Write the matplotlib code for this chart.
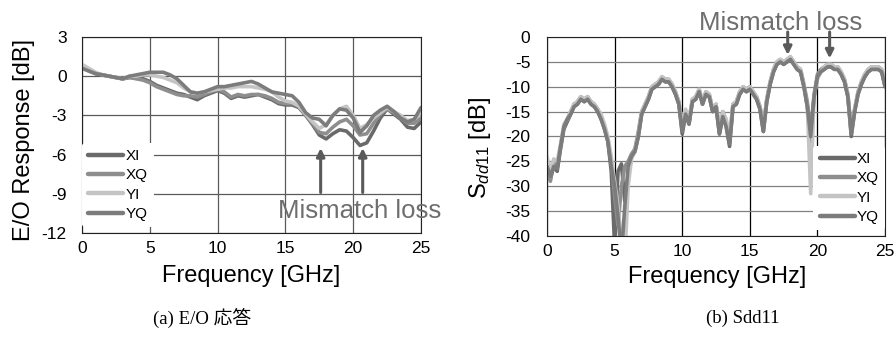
import matplotlib
matplotlib.use("Agg")
import matplotlib.pyplot as plt

plt.rcParams['font.family'] = ['Liberation Sans', 'DejaVu Sans']
plt.rcParams['mathtext.fontset'] = 'custom'
plt.rcParams['mathtext.rm'] = 'Liberation Sans'
plt.rcParams['mathtext.it'] = 'Liberation Sans:italic'
plt.rcParams['axes.unicode_minus'] = False

series_names = ['XI', 'XQ', 'YI', 'YQ']
series_colors = ['#6a6a6a', '#8e8e8e', '#c4c4c4', '#7c7c7c']

# ---------------- (a) E/O response ----------------
eo_freq = [0, 0.5, 1, 1.5, 2, 2.5, 3, 3.5, 4, 4.5, 5, 5.5, 6, 6.5, 7, 7.5, 8, 8.5, 9, 9.5,
           10, 10.5, 11, 11.5, 12, 12.5, 13, 13.5, 14, 14.5, 15, 15.5, 16, 16.5, 17, 17.5,
           18, 18.5, 19, 19.5, 20, 20.5, 21, 21.5, 22, 22.5, 23, 23.5, 24, 24.5, 25]
eo_XI = [0.8, 0.5, 0.2, 0.1, 0.0, -0.1, -0.2, -0.1, -0.1, -0.2, -0.4, -0.7, -0.9, -1.1, -1.3, -1.4,
         -1.6, -1.8, -1.5, -1.3, -1.1, -1.3, -1.7, -1.5, -1.6, -1.5, -1.4, -1.6, -1.8, -2.1, -2.2, -2.2,
         -2.4, -3.0, -3.7, -4.5, -4.8, -4.4, -4.1, -4.2, -4.7, -5.3, -5.1, -4.2, -3.2, -2.5, -2.9, -3.3,
         -3.9, -4.0, -3.5]
eo_XQ = [0.7, 0.4, 0.2, 0.1, 0.0, -0.1, -0.2, -0.1, -0.2, -0.3, -0.5, -0.8, -1.0, -1.2, -1.4, -1.5,
         -1.5, -1.6, -1.4, -1.2, -1.0, -1.2, -1.6, -1.4, -1.5, -1.4, -1.4, -1.5, -1.7, -2.0, -2.1, -2.1,
         -2.3, -3.0, -3.6, -4.3, -4.4, -3.9, -3.5, -3.3, -3.8, -4.5, -4.4, -3.6, -2.9, -2.5, -2.8, -3.2,
         -3.6, -3.6, -3.2]
eo_YI = [0.9, 0.6, 0.3, 0.1, 0.0, -0.1, -0.2, 0.0, 0.0, 0.1, 0.1, 0.0, -0.1, -0.3, -0.5, -0.9,
         -1.2, -1.3, -1.2, -1.1, -1.0, -0.9, -0.9, -0.8, -0.8, -0.8, -0.9, -1.0, -1.2, -1.6, -1.9, -2.0,
         -2.3, -2.9, -3.5, -4.0, -3.7, -3.0, -2.5, -2.3, -3.0, -4.0, -3.7, -3.2, -2.8, -2.4, -2.7, -3.0,
         -3.4, -3.3, -2.8]
eo_YQ = [0.6, 0.4, 0.2, 0.1, 0.0, -0.1, -0.2, 0.0, 0.1, 0.2, 0.3, 0.3, 0.3, 0.1, -0.2, -0.7,
         -1.2, -1.3, -1.2, -1.0, -0.8, -0.8, -0.7, -0.6, -0.5, -0.4, -0.6, -0.9, -1.2, -1.3, -1.4, -1.5,
         -2.0, -2.8, -3.2, -3.3, -3.8, -3.0, -2.5, -2.6, -3.2, -4.3, -3.8, -3.0, -2.6, -2.3, -2.7, -3.2,
         -3.5, -3.3, -2.4]
eo_yticks = [3, 0, -3, -6, -9, -12]
x_ticks = [0, 5, 10, 15, 20, 25]

# ---------------- (b) Sdd11 ----------------
s_freq = [0, 0.25, 0.5, 0.75, 1.0, 1.25, 1.5, 1.75, 2.0, 2.25, 2.5, 2.75, 3.0, 3.25, 3.5, 3.75,
          4.0, 4.25, 4.5, 4.75, 5.0, 5.25, 5.5, 5.75, 6.0, 6.25, 6.5, 6.75, 7.0, 7.25, 7.5, 7.75,
          8.0, 8.25, 8.5, 8.75, 9.0, 9.25, 9.5, 9.75, 10.0, 10.25, 10.5, 10.75, 11.0, 11.25, 11.5, 11.75,
          12.0, 12.25, 12.5, 12.75, 13.0, 13.25, 13.5, 13.75, 14.0, 14.25, 14.5, 14.75, 15.0, 15.25, 15.5, 15.75,
          16.0, 16.25, 16.5, 16.75, 17.0, 17.25, 17.5, 17.75, 18.0, 18.25, 18.5, 18.75, 19.0, 19.25, 19.5, 19.75,
          20.0, 20.25, 20.5, 20.75, 21.0, 21.25, 21.5, 21.75, 22.0, 22.25, 22.5, 22.75, 23.0, 23.25, 23.5, 23.75,
          24.0, 24.25, 24.5, 24.75, 25.0]
s_XI = [-25, -28.5, -26, -27, -22.5, -18.5, -17, -15.5, -14, -13.5, -12.5, -13, -12.5, -13.5, -14, -15,
        -16.5, -18.5, -21, -27, -42, -27, -25.5, -33, -28, -24, -23, -20, -15.5, -14, -12.5, -10.5,
        -10, -9.5, -8.5, -9, -9, -10, -11.5, -13.5, -19.5, -15.5, -17.5, -13, -12.5, -11, -13.5, -11.5,
        -12, -15, -14, -19.5, -16, -18, -22, -14, -13.5, -11.5, -10.5, -11, -10.5, -11.5, -12.5, -14.5,
        -19, -13, -9.5, -7, -5.5, -5, -5.5, -5, -4.5, -5.5, -6.5, -7, -10, -14, -21, -12,
        -8, -7, -6.5, -6, -6, -6.5, -6.5, -7.5, -9, -12, -20, -15, -11.5, -9.5, -8, -7,
        -6.5, -6.5, -6.5, -7, -10]
s_XQ = [-27, -29, -25, -26, -22, -18, -16.5, -15, -13.5, -13, -12, -12.5, -12, -13, -13.5, -14.5,
        -16, -18, -20.5, -25, -32, -38, -30, -26, -25, -23.5, -22.5, -19, -15, -13.5, -12, -10,
        -9.5, -9, -8, -8.5, -8.5, -9.5, -11, -13, -18, -15, -17, -12.5, -12, -10.5, -13, -11,
        -11.5, -14.5, -13.5, -18.5, -15, -17, -20.5, -13.5, -13, -11, -10, -10.5, -10, -11, -12, -14,
        -18, -12.5, -9, -6.5, -5, -4.5, -5, -4.5, -4, -5, -6, -6.5, -9.5, -13, -19, -11.5,
        -7.5, -6.5, -6, -5.5, -5.5, -6, -6, -7, -8.5, -11.5, -19, -14.5, -11, -9, -7.5, -6.5,
        -6, -6, -6, -6.5, -9.5]
s_YI = [-24, -27, -24.5, -25, -21.5, -17.5, -16.5, -15, -13.5, -13, -12, -12.5, -12, -13, -13.5, -14.5,
        -15.5, -17.5, -20, -24, -29, -34, -41, -45, -30, -24.5, -23, -19.5, -15, -13.5, -12, -10,
        -9.5, -9, -8, -8.5, -8.5, -9.5, -11, -13, -17.5, -14.5, -16.5, -12.5, -12, -10.5, -13, -11,
        -11.5, -14.5, -13.5, -18, -15, -16.5, -20, -13.5, -13, -11, -10, -10.5, -10, -11, -12, -14,
        -18, -12.5, -9, -6.5, -5, -4.5, -5, -4.5, -4, -5, -6, -6.5, -9.5, -14, -31.5, -12,
        -8.5, -7, -6, -5.5, -5.5, -6, -6, -7, -8.5, -11.5, -19, -14.5, -11, -9, -7.5, -6.5,
        -6, -6, -6, -6.5, -9.5]
s_YQ = [-26, -28, -26, -26.5, -22, -18, -16.5, -15.5, -14, -13.5, -12.5, -13, -12.5, -13.5, -14, -15,
        -16.5, -18.5, -21, -26, -30, -36, -44, -34, -26, -24, -23, -20, -15.5, -14, -12.5, -10.5,
        -10, -9.5, -8.5, -9, -9, -10, -11.5, -13.5, -19, -15.5, -17.5, -13, -12.5, -11, -13.5, -11.5,
        -12, -15, -14, -19.5, -16, -18, -21.5, -14, -13.5, -11.5, -10.5, -11, -10.5, -11.5, -12.5, -14.5,
        -19, -13, -9.5, -7, -5.5, -5, -5.5, -5, -4.5, -5.5, -6.5, -7, -10, -14, -20, -12,
        -8, -7, -6.5, -6, -6, -6.5, -6.5, -7.5, -9, -12, -19.5, -15, -11.5, -9.5, -8, -7,
        -6.5, -6.5, -6.5, -7, -10]
s_yticks = [0, -5, -10, -15, -20, -25, -30, -35, -40]

caption_a = '(a) E/O 応答'
caption_b = '(b) Sdd11'
annot_text = 'Mismatch loss'
eo_arrow_x = [17.6, 20.7]
s_arrow_x = [17.8, 20.9]

fig = plt.figure(figsize=(8.95, 3.4), dpi=100)
axL = fig.add_axes([0.0916, 0.3147, 0.3788, 0.5765])
axR = fig.add_axes([0.6112, 0.3059, 0.3777, 0.5853])

# Left chart
for name, col, ys in zip(series_names, series_colors, [eo_XI, eo_XQ, eo_YI, eo_YQ]):
    axL.plot(eo_freq, ys, color=col, lw=2.6, label=name, solid_capstyle='round')
axL.set_xlim(0, 25)
axL.set_ylim(-12, 3)
axL.set_xticks(x_ticks)
axL.set_yticks(eo_yticks)
axL.grid(True, color='#5a5a5a', lw=0.9)
axL.set_axisbelow(True)
axL.tick_params(axis='x', length=0, labelsize=12.5, pad=6)
axL.tick_params(axis='y', length=0, labelsize=12.5, pad=11)
axL.set_xlabel('Frequency [GHz]', fontsize=17)
axL.set_ylabel('E/O Response [dB]', fontsize=17)
axL.xaxis.set_label_coords(0.5, -0.165)
axL.yaxis.set_label_coords(-0.139, 0.474)
legL = axL.legend(loc='lower left', bbox_to_anchor=(0.0, 0.03), frameon=True, fontsize=11,
                  handlelength=2.3, handletextpad=0.15, labelspacing=0.35, borderpad=0.4,
                  borderaxespad=0.0)
legL.get_frame().set_edgecolor('none')
legL.get_frame().set_facecolor('white')
legL.get_frame().set_alpha(1)
for line in legL.get_lines():
    line.set_linewidth(3.2)
for xa in eo_arrow_x:
    axL.annotate('', xy=(xa, -5.5), xytext=(xa, -8.9),
                 arrowprops=dict(arrowstyle='-|>', color='#5a5a5a', lw=2.2,
                                 mutation_scale=12, shrinkA=0, shrinkB=0))
axL.text(20.5, -10.85, annot_text, fontsize=18.5, color='#6e6e6e', ha='center', va='baseline',
         clip_on=False)
for s in axL.spines.values():
    s.set_color('#222222')

# Right chart
for name, col, ys in zip(series_names, series_colors, [s_XI, s_XQ, s_YI, s_YQ]):
    axR.plot(s_freq, ys, color=col, lw=2.6, label=name, solid_capstyle='round')
axR.set_xlim(0, 25)
axR.set_ylim(-40, 0)
axR.set_xticks(x_ticks)
axR.set_yticks(s_yticks)
axR.xaxis.grid(True, color='#000000', lw=0.9)
axR.yaxis.grid(True, color='#808080', lw=0.9)
axR.set_axisbelow(True)
axR.tick_params(axis='x', length=0, labelsize=12.5, pad=6)
axR.tick_params(axis='y', length=0, labelsize=12.5, pad=12)
axR.set_xlabel('Frequency [GHz]', fontsize=17)
axR.set_ylabel(r'S$_{\mathit{dd11}}$ [dB]', fontsize=17)
axR.xaxis.set_label_coords(0.503, -0.15)
axR.yaxis.set_label_coords(-0.16, 0.442)
legR = axR.legend(loc='lower right', bbox_to_anchor=(1.0, 0.03), frameon=True, fontsize=11,
                  handlelength=2.3, handletextpad=0.15, labelspacing=0.35, borderpad=0.4,
                  borderaxespad=0.0)
legR.get_frame().set_edgecolor('none')
legR.get_frame().set_facecolor('white')
legR.get_frame().set_alpha(1)
for line in legR.get_lines():
    line.set_linewidth(3.2)
for xa, yt in zip(s_arrow_x, [-3.6, -4.3]):
    axR.annotate('', xy=(xa, yt), xytext=(xa, 1.0),
                 arrowprops=dict(arrowstyle='-|>', color='#5a5a5a', lw=2.2,
                                 mutation_scale=12, shrinkA=0, shrinkB=0),
                 annotation_clip=False)
axR.text(17.3, 1.4, annot_text, fontsize=18.5, color='#6e6e6e', ha='center', va='baseline',
         clip_on=False)
for s in axR.spines.values():
    s.set_color('#222222')

cap_font = ['Liberation Serif', 'Noto Sans CJK JP']
fig.text(202 / 895, 1 - 318 / 340, caption_a, fontsize=13.5, family=cap_font, ha='center', va='center')
fig.text(743 / 895, 1 - 318 / 340, caption_b, fontsize=13.5, family=cap_font, ha='center', va='center')

fig.savefig('out.png', dpi=100)
